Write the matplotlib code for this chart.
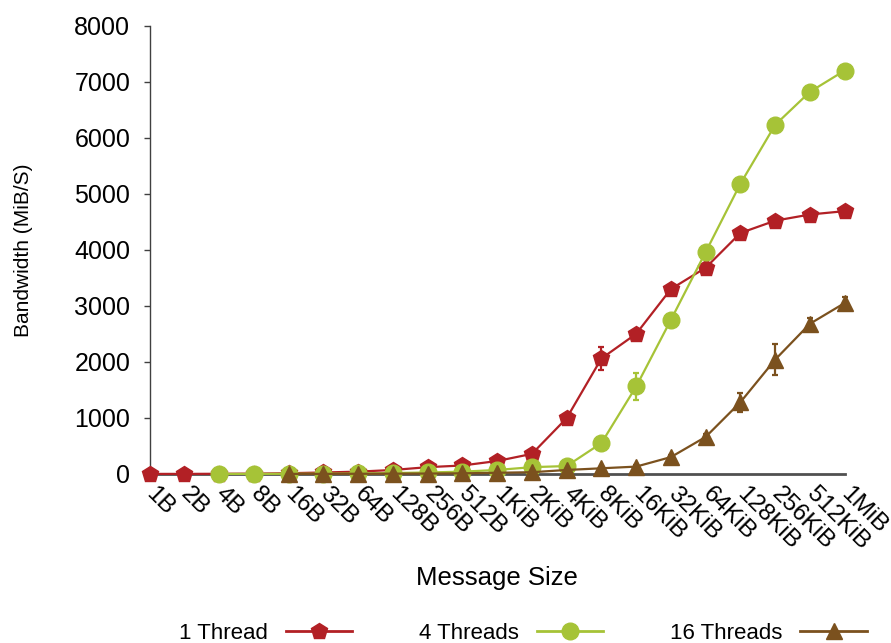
import numpy as np
import matplotlib
matplotlib.use("Agg")
import matplotlib.pyplot as plt
from matplotlib.lines import Line2D

plt.rcParams['font.family'] = ['Liberation Sans', 'DejaVu Sans']

sizes = ["1B", "2B", "4B", "8B", "16B", "32B", "64B", "128B", "256B", "512B",
         "1KiB", "2KiB", "4KiB", "8KiB", "16KiB", "32KiB", "64KiB", "128KiB",
         "256KiB", "512KiB", "1MiB"]

nan = np.nan
# bandwidth in MiB/s per message size (nan = not measured)
bw_1 = [0, 0, 2, 5, 12, 25, 40, 70, 120, 150, 230, 357, 995, 2060, 2500,
        3300, 3680, 4300, 4520, 4630, 4690]
err_1 = [nan, nan, nan, nan, nan, nan, nan, nan, nan, nan, nan, nan, 30, 200, 50,
         30, 40, 40, 30, 30, 30]
bw_4 = [nan, nan, 0, 0, 2, 4, 8, 15, 25, 40, 70, 120, 140, 550, 1560,
        2750, 3960, 5180, 6230, 6820, 7200]
err_4 = [nan, nan, nan, nan, nan, nan, nan, nan, nan, nan, nan, nan, nan, 40, 240,
         40, 40, 40, 40, 40, 40]
bw_16 = [nan, nan, nan, nan, 0, 0, 2, 4, 6, 10, 20, 30, 70, 100, 130,
         300, 660, 1280, 2040, 2680, 3050]
err_16 = [nan, nan, nan, nan, nan, nan, nan, nan, nan, nan, nan, nan, nan, nan, 20,
          30, 60, 170, 270, 100, 110]

labels = ["1 Thread", "4 Threads", "16 Threads"]
colors = ["#B22025", "#A6C337", "#7B511E"]
markers = ["p", "o", "^"]
msizes = [12, 12, 11]

x = np.arange(len(sizes))

fig = plt.figure(figsize=(8.91, 6.43), dpi=100)
ax = fig.add_axes([0.168, 0.263, 0.78, 0.697])

handles = []
for vals, errs, col, mk, ms, lab in zip([bw_1, bw_4, bw_16], [err_1, err_4, err_16],
                                        colors, markers, msizes, labels):
    ax.errorbar(x, vals, yerr=errs, color=col, marker=mk, markersize=ms,
                linewidth=1.6, elinewidth=1.6, capsize=2, capthick=1.6,
                clip_on=False, zorder=3)
    handles.append(Line2D([], [], color=col, marker=mk, markersize=ms, linewidth=2))

ax.set_xlim(0, len(sizes) - 1)
ax.set_ylim(0, 8000)
ax.set_yticks(range(0, 8001, 1000))
ax.set_xticks(x)
ax.set_xticklabels(sizes, rotation=-45, ha="left", va="center",
                   rotation_mode="anchor", fontsize=17.5)
ax.tick_params(axis="y", labelsize=18, length=4, width=1, color="#404040", pad=10)
ax.tick_params(axis="x", length=0, pad=12)

for s in ["top", "right"]:
    ax.spines[s].set_visible(False)
ax.spines["left"].set_color("#404040")
ax.spines["left"].set_linewidth(1.0)
ax.spines["bottom"].set_color("#505050")
ax.spines["bottom"].set_linewidth(2.0)

ax.set_ylabel("Bandwidth (MiB/S)", fontsize=15, labelpad=30)
ax.set_xlabel("Message Size", fontsize=18.5, labelpad=9)

fig.legend(handles, labels, loc="lower center", ncol=3,
           markerfirst=False, frameon=False, handlelength=3,
           columnspacing=3.0, fontsize=16, bbox_to_anchor=(0.587, -0.032))

fig.savefig("out.png", dpi=100)
